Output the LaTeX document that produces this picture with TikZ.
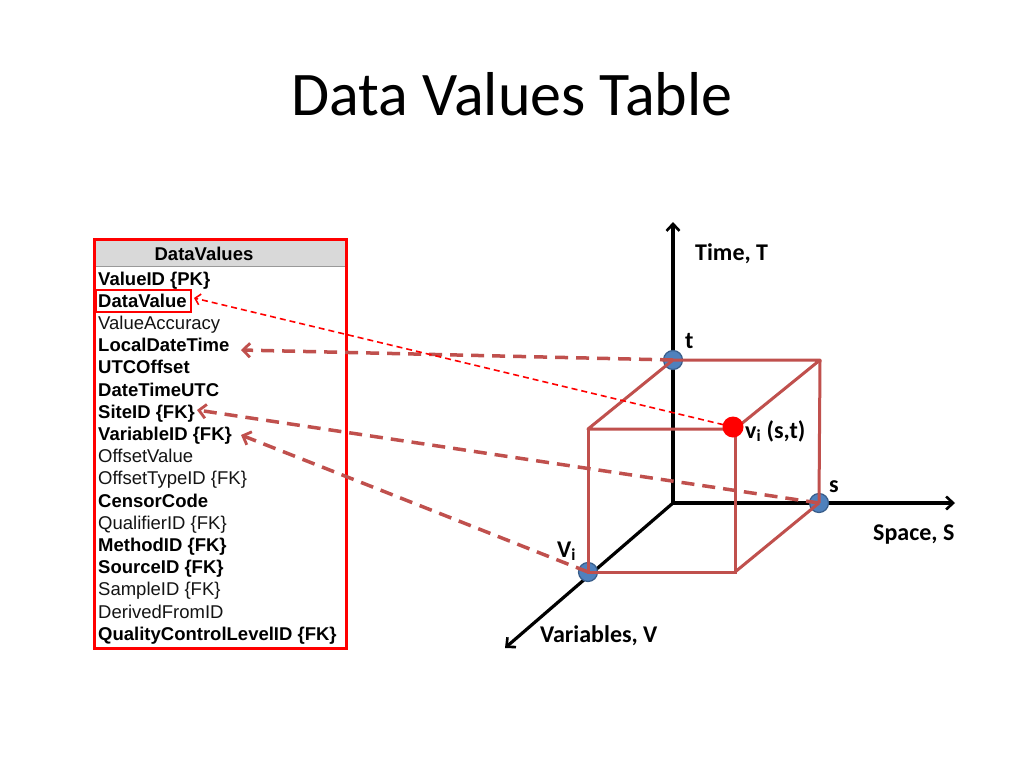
\documentclass[tikz,border=0pt]{standalone}
\usepackage{fontspec}
\setmainfont{Carlito}
\newfontfamily\arialfont{Liberation Sans}
\usetikzlibrary{arrows.meta,calc}
\definecolor{cubered}{HTML}{C0504D}
\definecolor{dotblue}{HTML}{4F81BD}
\definecolor{dotedge}{HTML}{385D8A}
\definecolor{hdrgray}{HTML}{D9D9D9}
\begin{document}
\begin{tikzpicture}[x=1pt,y=-1pt,
  rowb/.style={anchor=base west,inner sep=0pt,font=\arialfont\bfseries\fontsize{18.5}{22}\selectfont},
  rown/.style={anchor=base west,inner sep=0pt,font=\arialfont\fontsize{18.5}{22}\selectfont,text=black!92},
  axis/.style={line width=3.2pt,-{Straight Barb[length=7pt,width=13pt,line width=2.6pt]}},
  edge/.style={cubered,line width=3pt},
  bigdash/.style={cubered,line width=3.5pt,dash pattern=on 13pt off 8pt,-{Straight Barb[length=7pt,width=14pt,line width=2.8pt]}},
  thindash/.style={red,line width=1.6pt,dash pattern=on 6pt off 4pt,-{Straight Barb[length=5pt,width=11pt,line width=1.6pt]}},
  bdot/.style={circle,fill=dotblue,draw=dotedge,line width=1.2pt,minimum size=19pt,inner sep=0pt},
  rdot/.style={circle,fill=red,minimum size=21pt,inner sep=0pt},
  lbl/.style={anchor=base west,inner sep=0pt,font=\bfseries\fontsize{24}{28}\selectfont}]
\useasboundingbox (0,0) rectangle (1024,768);
\fill[white] (0,0) rectangle (1024,768);
% title
\node[anchor=base,inner sep=0pt,font=\fontsize{62}{70}\selectfont] (title) at (512,115) {Data Values Table};
% table
\fill[hdrgray] (96,241) rectangle (345,266);
\draw[black!40,line width=0.6pt] (96,266) -- (345,266);
\node[anchor=base,inner sep=0pt,font=\arialfont\bfseries\fontsize{18.5}{22}\selectfont] (hdr) at (204,260) {DataValues};
\node[rowb] (r1) at (98,285) {ValueID \{PK\}};
\node[rowb] (r2) at (98,307.2) {DataValue};
\node[rown] (r3) at (98,329.4) {ValueAccuracy};
\node[rowb] (r4) at (98,351.6) {LocalDateTime};
\node[rowb] (r5) at (98,373.8) {UTCOffset};
\node[rowb] (r6) at (98,396) {DateTimeUTC};
\node[rowb] (r7) at (98,418.2) {SiteID \{FK\}};
\node[rowb] (r8) at (98,440.4) {VariableID \{FK\}};
\node[rown] (r9) at (98,462.6) {OffsetValue};
\node[rown] (r10) at (98,484.8) {OffsetTypeID \{FK\}};
\node[rowb] (r11) at (98,507) {CensorCode};
\node[rown] (r12) at (98,529.2) {QualifierID \{FK\}};
\node[rowb] (r13) at (98,551.4) {MethodID \{FK\}};
\node[rowb] (r14) at (98,573.6) {SourceID \{FK\}};
\node[rown] (r15) at (98,595.8) {SampleID \{FK\}};
\node[rown] (r16) at (98,618) {DerivedFromID};
\node[rowb] (r17) at (98,640.2) {QualityControlLevelID \{FK\}};
\draw[red,line width=3pt] (94.5,239.5) rectangle (346.5,648.5);
\draw[red,line width=2.2pt] (96,290) rectangle (191,312);
% axes
\coordinate (O) at (673,503);
\coordinate (Ttip) at (673,222);
\coordinate (Stip) at (955,503);
\coordinate (Vtip) at (505,648);
\draw[axis] (O) -- (Ttip);
\draw[axis] (O) -- (Stip);
\draw[axis] (O) -- (Vtip);
% dots
\node[bdot] (tdot) at (673,360) {};
\node[bdot] (sdot) at (819,503) {};
\node[bdot] (vdot) at (588,572) {};
% cube
\coordinate (A) at (820,360);
\coordinate (B) at (588,429);
\coordinate (C) at (735,429);
\coordinate (D) at (735,572);
\draw[edge,line join=round] (tdot.center) -- (A) -- (C) -- (B) -- cycle;
\draw[edge] (B) -- (vdot.center) -- (D) -- (C);
\draw[edge] (A) -- (sdot.center);
\draw[edge] (D) -- (sdot.center);
\node[rdot] (vpt) at (733,427) {};
% connectors
\coordinate (ldtTip) at (241,350);
\coordinate (siteTip) at (197,410);
\coordinate (varTip) at (241,435);
\coordinate (dvTip) at (194,298);
\draw[bigdash] (tdot.center) -- (ldtTip);
\draw[bigdash] (sdot.center) -- (siteTip);
\draw[bigdash] (vdot.center) -- (varTip);
\draw[thindash] (vpt.center) -- (dvTip);
% labels
\node[lbl] (lT) at (695,260) {Time, T};
\node[lbl] (lt) at (685,348) {t};
\node[lbl] (lv) at (745,438) {v\textsubscript{i} (s,t)};
\node[lbl] (ls) at (829,492) {s};
\node[lbl] (lS) at (873,540) {Space, S};
\node[lbl] (lVi) at (557,557) {V\textsubscript{i}};
\node[lbl] (lV) at (540,642) {Variables, V};
\end{tikzpicture}
\end{document}
